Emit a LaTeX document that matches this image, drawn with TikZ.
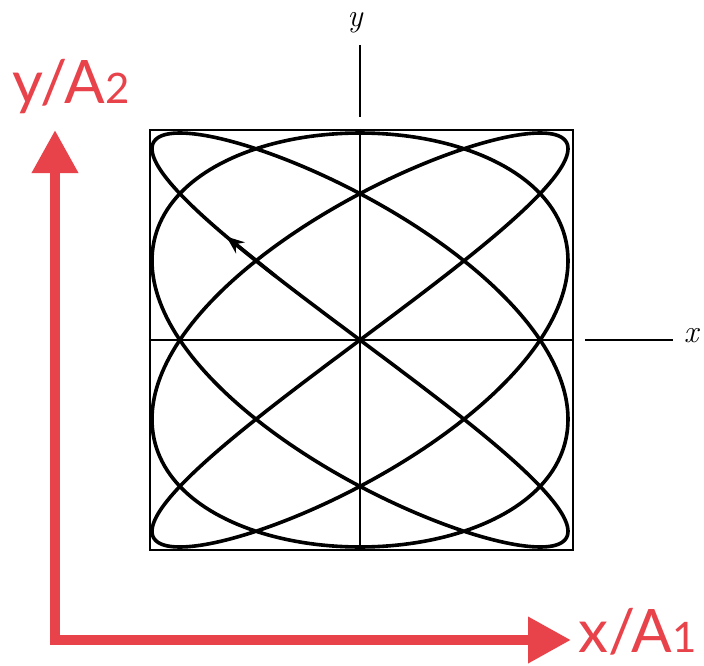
\documentclass[tikz,border=0pt]{standalone}
\usepackage{fontspec}
\setsansfont{Lato}
\usepackage{tikz}
\usetikzlibrary{arrows.meta}
\definecolor{axisred}{HTML}{E8424B}
\tikzset{
  redaxis/.style={
    -{Triangle[length=43pt,width=44pt]}, line width=10pt,
    draw=axisred, shorten <=-5pt
  },
  redlabel/.style={
    text=axisred, font=\sffamily\fontsize{60}{60}\selectfont,
    inner sep=0pt, anchor=base west
  },
  framebox/.style={
    rectangle, draw=black, line width=2.2pt, inner sep=0pt,
    minimum width=423pt, minimum height=420pt
  },
  thinaxis/.style={draw=black, line width=1.5pt},
  curve/.style={draw=black, line width=3.6pt, line join=round},
  axislabel/.style={font=\rmfamily\itshape\fontsize{32}{32}\selectfont, inner sep=0pt},
}
\newcommand{\subtxt}[1]{{\fontsize{42}{42}\selectfont #1}}

\begin{document}
\begin{tikzpicture}[x=1pt,y=-1pt]
  \useasboundingbox (0,0) rectangle (704,666);

  % box and axes of the figure
  \node[framebox] (box) at (361.5,340) {};
  \coordinate (c) at (360,340);
  \draw[thinaxis] (box.north -| c) -- (box.south -| c);
  \draw[thinaxis] (box.west |- c) -- (box.east |- c);
  \coordinate (ytop) at (360,45);
  \coordinate (ybot) at (360,117);
  \coordinate (xleft) at (585,340);
  \coordinate (xright) at (673,340);
  \draw[thinaxis] (ytop) -- (ybot);
  \draw[thinaxis] (xleft) -- (xright);
  \node[axislabel, anchor=base] (ylab) at (355,27) {y};
  \node[axislabel] (xlab) at (691,336) {x};

  % Lissajous curve
  \draw[curve] plot[domain=0:360, samples=721, variable=\t]
    ({360-208*sin(4*\t)},{340-207*sin(3*\t)}) -- cycle;
  \coordinate (ar1) at ({360-208*sin(4*6)},{340-207*sin(3*6)});
  \coordinate (ar2) at ({360-208*sin(4*10)},{340-207*sin(3*10)});
  \draw[curve, -{Stealth[length=18pt,width=14pt]}] (ar1) -- (ar2);

  % red axes
  \coordinate (o) at (55,640);
  \coordinate (ytip) at (55,130);
  \coordinate (xtip) at (571,640);
  \draw[redaxis] (o) -- (ytip);
  \draw[redaxis] (o) -- (xtip);
  \node[redlabel] (ylabel) at (12,104) {y/A\subtxt{2}};
  \node[redlabel] (xlabel) at (578,652) {x/A\subtxt{1}};
\end{tikzpicture}
\end{document}
